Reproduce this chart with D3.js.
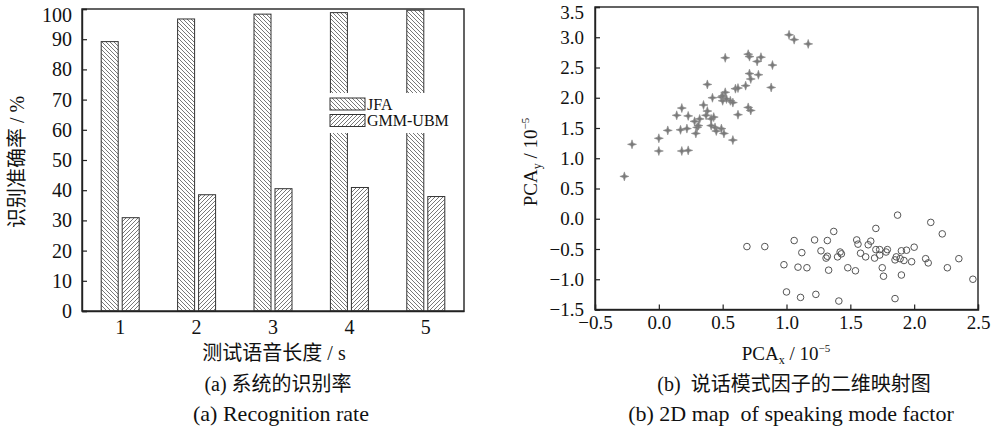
<!DOCTYPE html>
<html>
<head>
<meta charset="utf-8">
<script src="https://cdn.jsdelivr.net/npm/d3@7"></script>
<style>
  body { margin: 0; background: #fff; }
  svg { display: block; }
  text { font-family: "Liberation Serif", "Noto Sans CJK SC", serif; fill: #111; }
  .cjk { font-family: "Liberation Serif", "Noto Sans CJK SC", sans-serif; }
</style>
</head>
<body>
<div id="chart"></div>
<script>
// ---- data ----
const lengths = ["1", "2", "3", "4", "5"];            // test speech length / s
const jfaRate = [89.2, 96.7, 98.3, 98.8, 99.6];        // JFA recognition rate %
const gmmRate = [30.9, 38.5, 40.5, 40.9, 37.9];        // GMM-UBM recognition rate %
const rateTicks = [0, 10, 20, 30, 40, 50, 60, 70, 80, 90, 100];
const pcaXTicks = [-0.5, 0.0, 0.5, 1.0, 1.5, 2.0, 2.5];
const pcaYTicks = [-1.5, -1.0, -0.5, 0.0, 0.5, 1.0, 1.5, 2.0, 2.5, 3.0, 3.5];

// star markers (upper cluster)
const starPoints = [
  [-0.27, 0.70], [-0.21, 1.23], [0.00, 1.33], [0.00, 1.12], [0.07, 1.46],
  [0.14, 1.71], [0.18, 1.83], [0.17, 1.47], [0.18, 1.12], [0.23, 1.13],
  [0.23, 1.70], [0.22, 1.49], [0.29, 1.41], [0.30, 1.51], [0.28, 1.61],
  [0.32, 1.65], [0.35, 1.88], [0.38, 1.78], [0.38, 2.22], [0.37, 1.71],
  [0.42, 2.00], [0.43, 1.68], [0.44, 1.51], [0.45, 1.45], [0.49, 2.01],
  [0.50, 1.95], [0.49, 1.49], [0.51, 1.41], [0.52, 2.66], [0.52, 2.09],
  [0.56, 1.95], [0.58, 1.30], [0.60, 2.15], [0.62, 2.16], [0.62, 1.72],
  [0.58, 1.92], [0.68, 2.20], [0.70, 2.72], [0.70, 1.84], [0.71, 2.40],
  [0.71, 2.68], [0.77, 2.60], [0.80, 2.67], [0.89, 2.54], [0.72, 2.31],
  [0.78, 2.38], [0.88, 2.17], [0.72, 1.79], [1.02, 3.04], [1.06, 2.96],
  [1.17, 2.89], [0.50, 2.03], [0.53, 1.98], [0.41, 1.65], [0.31, 1.54],
  [0.41, 1.54]
];

// circle markers (lower cluster)
const circlePoints = [
  [0.69, -0.46], [0.83, -0.46], [1.06, -0.36], [1.22, -0.35], [1.32, -0.36],
  [1.37, -0.21], [1.12, -0.56], [1.27, -0.53], [1.31, -0.65], [1.32, -0.62],
  [1.42, -0.55], [1.43, -0.58], [1.40, -0.63], [0.98, -0.76], [1.09, -0.80],
  [1.16, -0.81], [1.33, -0.85], [1.48, -0.81], [1.54, -0.86], [1.00, -1.21],
  [1.11, -1.30], [1.23, -1.25], [1.41, -1.36], [1.55, -0.35], [1.56, -0.42],
  [1.58, -0.57], [1.62, -0.63], [1.64, -0.43], [1.66, -0.37], [1.70, -0.16],
  [1.69, -0.65], [1.70, -0.51], [1.73, -0.51], [1.73, -0.60], [1.78, -0.55],
  [1.79, -0.51], [1.75, -0.81], [1.76, -0.95], [1.85, -0.68], [1.86, -0.63],
  [1.89, -0.66], [1.90, -0.53], [1.92, -0.69], [1.94, -0.52], [2.00, -0.47],
  [1.98, -0.71], [1.90, -0.93], [1.87, 0.06], [1.85, -1.32], [2.09, -0.66],
  [2.11, -0.73], [2.13, -0.06], [2.22, -0.25], [2.26, -0.81], [2.35, -0.66],
  [2.46, -1.00]
];

const W = 999, H = 434;
const svg = d3.select("#chart").append("svg")
    .attr("width", W)
    .attr("height", H);

// hatch patterns
const defs = svg.append("defs");
defs.append("pattern")
    .attr("id", "hatchBack")
    .attr("patternUnits", "userSpaceOnUse")
    .attr("width", 4).attr("height", 4)
    .append("path")
    .attr("d", "M-1,-1 l6,6 M-1,3 l2,2 M3,-1 l2,2")
    .attr("stroke", "#555").attr("stroke-width", 0.8);
defs.append("pattern")
    .attr("id", "hatchFwd")
    .attr("patternUnits", "userSpaceOnUse")
    .attr("width", 4).attr("height", 4)
    .append("path")
    .attr("d", "M-1,1 l2,-2 M0,4 l4,-4 M3,5 l2,-2")
    .attr("stroke", "#555").attr("stroke-width", 0.8);

// ================= (a) bar chart =================
const a = { left: 82, right: 464, top: 9, bottom: 311 };
const g1 = svg.append("g");

const xBand = d3.scaleBand().domain(lengths).range([a.left, a.right]).paddingInner(0.5).paddingOuter(0.25);
const yRate = d3.scaleLinear().domain([0, 100]).range([a.bottom, a.top]);
const barW = 17, gap = 4;
const groupW = barW * 2 + gap;

// frame
g1.append("rect")
    .attr("x", a.left).attr("y", a.top)
    .attr("width", a.right - a.left).attr("height", a.bottom - a.top)
    .attr("fill", "none").attr("stroke", "#222").attr("stroke-width", 1.4);

const centre = d => xBand(d) + xBand.bandwidth() / 2;

g1.selectAll(".jfa")
    .data(lengths)
    .enter().append("rect")
    .attr("class", "jfa")
    .attr("x", d => centre(d) - groupW / 2)
    .attr("y", (d, i) => yRate(jfaRate[i]))
    .attr("width", barW)
    .attr("height", (d, i) => a.bottom - yRate(jfaRate[i]))
    .attr("fill", "url(#hatchBack)")
    .attr("stroke", "#333").attr("stroke-width", 1);

g1.selectAll(".gmm")
    .data(lengths)
    .enter().append("rect")
    .attr("class", "gmm")
    .attr("x", d => centre(d) - groupW / 2 + barW + gap)
    .attr("y", (d, i) => yRate(gmmRate[i]))
    .attr("width", barW)
    .attr("height", (d, i) => a.bottom - yRate(gmmRate[i]))
    .attr("fill", "url(#hatchFwd)")
    .attr("stroke", "#333").attr("stroke-width", 1);

// y axis
g1.append("g")
    .attr("transform", "translate(" + a.left + ",0)")
    .call(d3.axisLeft(yRate).tickValues(rateTicks).tickFormat(d3.format("d")).tickSize(-5).tickPadding(10))
    .call(ax => {
        ax.select(".domain").attr("stroke", "#222").attr("stroke-width", 1.4);
        ax.selectAll("line").attr("stroke", "#222").attr("stroke-width", 1.2);
        ax.selectAll("text").attr("font-size", 20).attr("font-family", "Liberation Serif").attr("fill", "#111");
        // top label sits a little lower so it stays inside the page
        ax.selectAll("text").filter(d => d === 100).attr("dy", "0.6em");
    });

// x axis
g1.append("g")
    .attr("transform", "translate(0," + a.bottom + ")")
    .call(d3.axisBottom(xBand).tickSize(0).tickPadding(9))
    .call(ax => {
        ax.select(".domain").attr("stroke", "#222").attr("stroke-width", 1.4);
        ax.selectAll("text").attr("font-size", 20).attr("font-family", "Liberation Serif").attr("fill", "#111");
    });

// legend
const legend = g1.append("g").attr("transform", "translate(327,93)");
legend.append("rect")
    .attr("x", 0).attr("y", 0)
    .attr("width", a.right - 327 - 1).attr("height", 40)
    .attr("fill", "#fff");
[["JFA", "url(#hatchBack)"], ["GMM-UBM", "url(#hatchFwd)"]].forEach((item, i) => {
    legend.append("rect")
        .attr("x", 3).attr("y", 5 + i * 16.5)
        .attr("width", 35).attr("height", 12)
        .attr("fill", item[1])
        .attr("stroke", "#333").attr("stroke-width", 1);
    legend.append("text")
        .attr("x", 40).attr("y", 16.5 + i * 16.5)
        .attr("font-size", 16)
        .text(item[0]);
});

// axis titles
g1.append("text")
    .attr("class", "cjk")
    .attr("transform", "translate(24,162) rotate(-90)")
    .attr("text-anchor", "middle")
    .attr("font-size", 20)
    .text("识别准确率 / %");

g1.append("text")
    .attr("class", "cjk")
    .attr("x", 274).attr("y", 360)
    .attr("text-anchor", "middle")
    .attr("font-size", 20)
    .text("测试语音长度 / s");

// ================= (b) scatter =================
const b = { left: 595, right: 978, top: 7, bottom: 309.5 };
const g2 = svg.append("g");

const xPca = d3.scaleLinear().domain([-0.5, 2.5]).range([b.left, b.right]);
const yPca = d3.scaleLinear().domain([-1.5, 3.5]).range([b.bottom, b.top]);

g2.append("rect")
    .attr("x", b.left).attr("y", b.top)
    .attr("width", b.right - b.left).attr("height", b.bottom - b.top)
    .attr("fill", "none").attr("stroke", "#222").attr("stroke-width", 1.4);

const fmt1 = d3.format(".1f");

g2.append("g")
    .attr("transform", "translate(" + b.left + ",0)")
    .call(d3.axisLeft(yPca).tickValues(pcaYTicks).tickFormat(fmt1).tickSize(-5).tickPadding(11))
    .call(ax => {
        ax.select(".domain").attr("stroke", "#222").attr("stroke-width", 1.4);
        ax.selectAll("line").attr("stroke", "#222").attr("stroke-width", 1.2);
        ax.selectAll("text").attr("font-size", 19).attr("font-family", "Liberation Serif").attr("fill", "#111");
        ax.selectAll("text").filter(d => d === 3.5).attr("dy", "0.6em");
    });

g2.append("g")
    .attr("transform", "translate(0," + b.bottom + ")")
    .call(d3.axisBottom(xPca).tickValues(pcaXTicks).tickFormat(fmt1).tickSize(-5).tickPadding(6))
    .call(ax => {
        ax.select(".domain").attr("stroke", "#222").attr("stroke-width", 1.4);
        ax.selectAll("line").attr("stroke", "#222").attr("stroke-width", 1.2);
        ax.selectAll("text").attr("font-size", 19).attr("font-family", "Liberation Serif").attr("fill", "#111");
    });

// four-pointed star marker
const starPath = "M0,-4.5 L1.1,-1.1 L4.5,0 L1.1,1.1 L0,4.5 L-1.1,1.1 L-4.5,0 L-1.1,-1.1 Z";
g2.selectAll(".star")
    .data(starPoints)
    .enter().append("path")
    .attr("class", "star")
    .attr("d", starPath)
    .attr("transform", d => "translate(" + xPca(d[0]) + "," + yPca(d[1]) + ")")
    .attr("fill", "#7a7a7a")
    .attr("stroke", "#8a8a8a")
    .attr("stroke-width", 0.6);

g2.selectAll(".ring")
    .data(circlePoints)
    .enter().append("circle")
    .attr("class", "ring")
    .attr("cx", d => xPca(d[0]))
    .attr("cy", d => yPca(d[1]))
    .attr("r", 3.3)
    .attr("fill", "none")
    .attr("stroke", "#555")
    .attr("stroke-width", 1);

// axis titles with sub/superscripts
const yTitle = g2.append("text")
    .attr("transform", "translate(537,162) rotate(-90)")
    .attr("text-anchor", "middle")
    .attr("font-size", 19);
yTitle.append("tspan").text("PCA");
yTitle.append("tspan").attr("font-size", 12).attr("dy", 4).text("y");
yTitle.append("tspan").attr("dy", -4).text(" / 10");
yTitle.append("tspan").attr("font-size", 11).attr("dy", -8).text("−5");

const xTitle = g2.append("text")
    .attr("x", 786).attr("y", 360)
    .attr("text-anchor", "middle")
    .attr("font-size", 19);
xTitle.append("tspan").text("PCA");
xTitle.append("tspan").attr("font-size", 12).attr("dy", 4).text("x");
xTitle.append("tspan").attr("dy", -4).text(" / 10");
xTitle.append("tspan").attr("font-size", 11).attr("dy", -8).text("−5");

// ================= captions =================
const captions = [
    { x: 278, y: 391, t: "(a) 系统的识别率", size: 20 },
    { x: 281, y: 421, t: "(a) Recognition rate", size: 22 },
    { x: 794, y: 391, t: "(b)  说话模式因子的二维映射图", size: 20 },
    { x: 791, y: 421, t: "(b) 2D map  of speaking mode factor", size: 22 }
];
svg.selectAll(".caption")
    .data(captions)
    .enter().append("text")
    .attr("class", "caption cjk")
    .attr("x", d => d.x).attr("y", d => d.y)
    .attr("text-anchor", "middle")
    .attr("font-size", d => d.size)
    .attr("xml:space", "preserve")
    .style("white-space", "pre")
    .text(d => d.t);
</script>
</body>
</html>
